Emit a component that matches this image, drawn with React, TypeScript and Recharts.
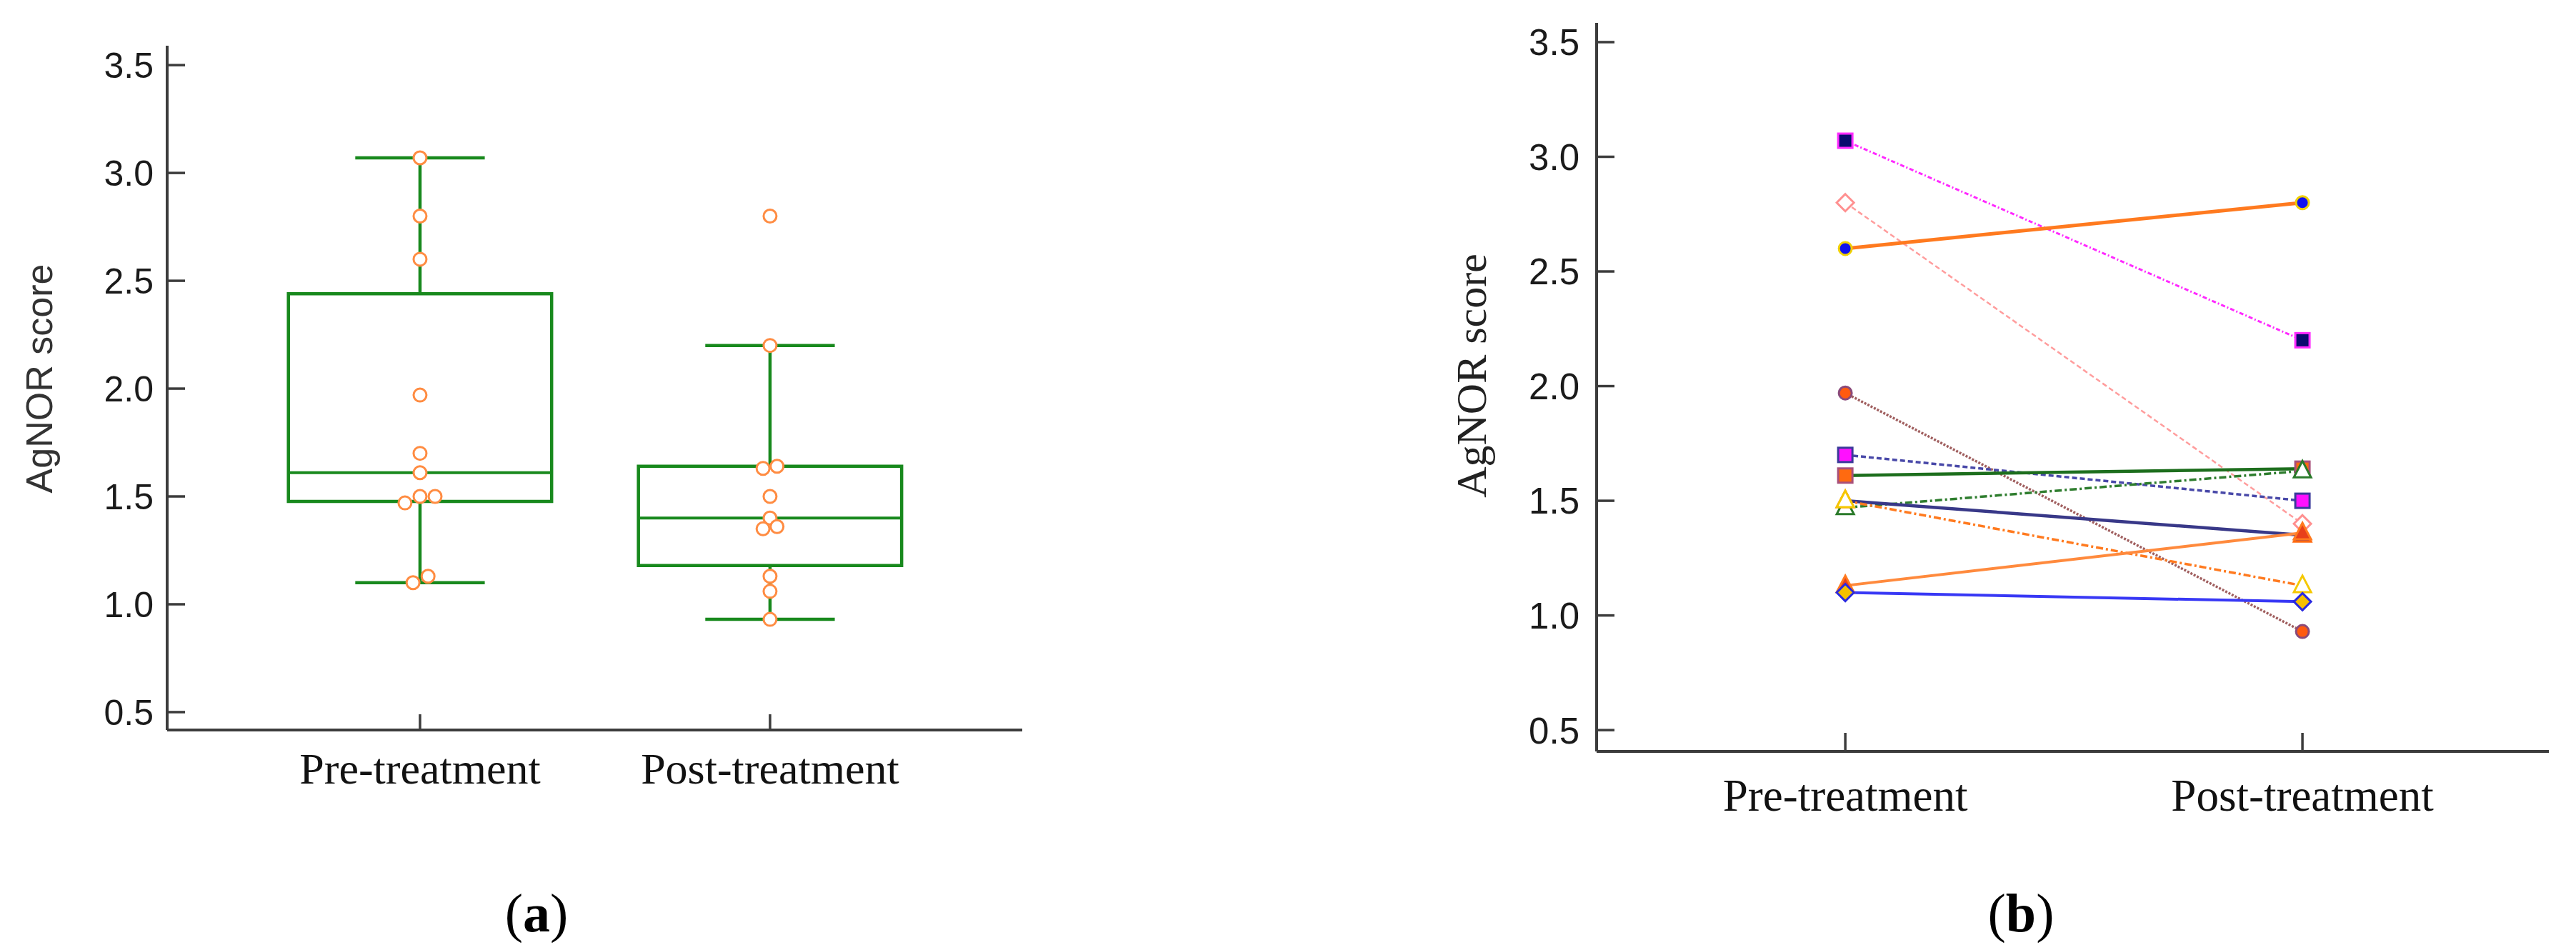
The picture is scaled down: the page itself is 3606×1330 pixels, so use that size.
import React from 'react';
import {
  ComposedChart,
  LineChart,
  Line,
  Scatter,
  XAxis,
  YAxis,
  ReferenceArea,
  ReferenceLine,
} from 'recharts';

// ---------- data ----------
const categories = ['Pre-treatment', 'Post-treatment'];
const categoryX = [1, 2];
const yTicks = [0.5, 1.0, 1.5, 2.0, 2.5, 3.0, 3.5];

// paired AgNOR scores per patient
const preScores = [3.07, 2.8, 2.6, 1.97, 1.7, 1.61, 1.47, 1.5, 1.5, 1.13, 1.1];
const postScores = [2.2, 1.4, 2.8, 0.93, 1.5, 1.64, 1.63, 1.35, 1.13, 1.36, 1.06];
// horizontal jitter of the dots in the box plot (category units)
const preJitter = [0, 0, 0, 0, 0, 0, -0.043, 0, 0.043, 0.023, -0.02];
const postJitter = [0, 0, 0, 0, 0, 0.02, -0.02, -0.02, 0, 0.02, 0];

// box plot statistics [pre, post]
const boxMin = [1.1, 0.93];
const boxQ1 = [1.477, 1.18];
const boxMedian = [1.61, 1.4];
const boxQ3 = [2.44, 1.64];
const boxMax = [3.07, 2.2];

// ---------- styles ----------
const SANS = '"Liberation Sans", Arial, Helvetica, sans-serif';
const SERIF = '"Liberation Serif", "Times New Roman", serif';
const AXIS = '#3c3c3c';
const GREEN = '#18891d';
const DOT = '#ff8c42';
const BOX_HALF = 0.376;
const CAP_HALF = 0.185;

const seriesStyles = [
  { color: '#ff2bff', width: 3, dash: '6 3 2 3', shape: 'square', fill: '#0a0a6e', stroke: '#ff2bff' },
  { color: '#ff9d9d', width: 2.5, dash: '7 4', shape: 'diamond', fill: '#ffffff', stroke: '#ff9090' },
  { color: '#ff7a1f', width: 5, dash: undefined, shape: 'circle', fill: '#1010ee', stroke: '#f0d000' },
  { color: '#a05f5f', width: 3.5, dash: '3 2', shape: 'circle', fill: '#ff5a10', stroke: '#8a4a7a' },
  { color: '#4848a8', width: 3.5, dash: '7 4', shape: 'square', fill: '#ff10ff', stroke: '#3a3a9a' },
  { color: '#1d6e1d', width: 4.5, dash: undefined, shape: 'square', fill: '#ff6a10', stroke: '#a8507a' },
  { color: '#2e7d2e', width: 3.5, dash: '10 4 3 4', shape: 'triangle', fill: '#ffffff', stroke: '#2a7a2a' },
  { color: '#383888', width: 4.5, dash: undefined, shape: 'triangle', fill: '#7a2e6e', stroke: '#ff6a10' },
  { color: '#ff7a1f', width: 3.5, dash: '10 4 3 4', shape: 'triangle', fill: '#ffffff', stroke: '#f5c800' },
  { color: '#ff8a3d', width: 4, dash: undefined, shape: 'triangle', fill: '#e8401a', stroke: '#ff7a1f' },
  { color: '#3838f5', width: 4, dash: undefined, shape: 'diamond', fill: '#f5c000', stroke: '#2a2ae0' },
];

// ---------- derived tables ----------
const prePoints = preScores.map((v, i) => ({ x: categoryX[0] + preJitter[i], y: v }));
const postPoints = postScores.map((v, i) => ({ x: categoryX[1] + postJitter[i], y: v }));
const pairs = preScores.map((v, i) => [
  { x: categoryX[0], y: v },
  { x: categoryX[1], y: postScores[i] },
]);

// ---------- helpers ----------
const makeYTick = (len: number, fontSize: number, gap: number) => (props: any) => {
  const { x, y, payload } = props;
  return (
    <g>
      <line x1={x} x2={x + len} y1={y} y2={y} stroke={AXIS} strokeWidth={3.5} />
      <text
        x={x - gap}
        y={y}
        dy="0.36em"
        textAnchor="end"
        fontFamily={SANS}
        fontSize={fontSize}
        fill="#1a1a1a"
      >
        {Number(payload.value).toFixed(1)}
      </text>
    </g>
  );
};

const makeXTick = (len: number, fontSize: number, offset: number) => (props: any) => {
  const { x, y, payload } = props;
  const idx = categoryX.indexOf(payload.value);
  return (
    <g>
      <line x1={x} x2={x} y1={y} y2={y - len} stroke={AXIS} strokeWidth={3.5} />
      <text
        x={x}
        y={y + offset}
        dy="0.35em"
        textAnchor="middle"
        fontFamily={SERIF}
        fontSize={fontSize}
        fill="#111"
      >
        {idx >= 0 ? categories[idx] : ''}
      </text>
    </g>
  );
};

const makeYLabel = (dxCenter: number, dyCenter: number, font: string, fontSize: number, color: string) =>
  (props: any) => {
    const vb = props.viewBox || { x: 0, y: 0, width: 0, height: 0 };
    const cx = vb.x + dxCenter;
    const cy = vb.y + vb.height / 2 + dyCenter;
    return (
      <text
        x={cx}
        y={cy}
        dy="0.35em"
        textAnchor="middle"
        transform={`rotate(-90, ${cx}, ${cy})`}
        fontFamily={font}
        fontSize={fontSize}
        fill={color}
      >
        AgNOR score
      </text>
    );
  };

const OpenDot = (props: any) => {
  const { cx, cy } = props;
  if (cx == null || cy == null) return <g />;
  return <circle cx={cx} cy={cy} r={9} fill="#ffffff" stroke={DOT} strokeWidth={3} />;
};

function Marker({ cx, cy, st }: any) {
  const size = 20;
  const s = size / 2;
  const common = { fill: st.fill, stroke: st.stroke, strokeWidth: 3 };
  if (st.shape === 'square') {
    return <rect x={cx - s} y={cy - s} width={size} height={size} {...common} />;
  }
  if (st.shape === 'circle') {
    return <circle cx={cx} cy={cy} r={9} {...common} />;
  }
  if (st.shape === 'diamond') {
    return (
      <polygon
        points={`${cx},${cy - 12} ${cx + 12},${cy} ${cx},${cy + 12} ${cx - 12},${cy}`}
        {...common}
      />
    );
  }
  return (
    <polygon
      points={`${cx},${cy - 14} ${cx + 12},${cy + 9} ${cx - 12},${cy + 9}`}
      {...common}
    />
  );
}

// ---------- charts ----------
function BoxPanel() {
  return (
    <ComposedChart width={1500} height={1200} margin={{ top: 64, right: 69, left: 0, bottom: 0 }}>
      <XAxis
        dataKey="x"
        type="number"
        domain={[0.2776, 2.7206]}
        ticks={categoryX}
        allowDataOverflow
        height={178}
        tickSize={0}
        tickMargin={0}
        tickLine={false}
        axisLine={{ stroke: AXIS, strokeWidth: 4 }}
        tick={makeXTick(22, 62, 53)}
      />
      <YAxis
        dataKey="y"
        type="number"
        domain={[0.417, 3.59]}
        ticks={yTicks}
        allowDataOverflow
        width={234}
        tickSize={0}
        tickMargin={0}
        tickLine={false}
        axisLine={{ stroke: AXIS, strokeWidth: 4 }}
        tick={makeYTick(25, 50, 19)}
        label={{ content: makeYLabel(55, -13, SANS, 52, '#333') }}
      />
      {categoryX.map((cx, i) => (
        <ReferenceArea
          key={`box-${i}`}
          x1={cx - BOX_HALF}
          x2={cx + BOX_HALF}
          y1={boxQ1[i]}
          y2={boxQ3[i]}
          fill="none"
          fillOpacity={0}
          stroke={GREEN}
          strokeWidth={4.5}
          strokeOpacity={1}
        />
      ))}
      {categoryX.map((cx, i) => (
        <ReferenceLine
          key={`med-${i}`}
          segment={[
            { x: cx - BOX_HALF, y: boxMedian[i] },
            { x: cx + BOX_HALF, y: boxMedian[i] },
          ]}
          stroke={GREEN}
          strokeWidth={4}
        />
      ))}
      {categoryX.map((cx, i) => (
        <ReferenceLine
          key={`wh-${i}`}
          segment={[
            { x: cx, y: boxQ3[i] },
            { x: cx, y: boxMax[i] },
          ]}
          stroke={GREEN}
          strokeWidth={4.5}
        />
      ))}
      {categoryX.map((cx, i) => (
        <ReferenceLine
          key={`wl-${i}`}
          segment={[
            { x: cx, y: boxQ1[i] },
            { x: cx, y: boxMin[i] },
          ]}
          stroke={GREEN}
          strokeWidth={4.5}
        />
      ))}
      {categoryX.map((cx, i) => (
        <ReferenceLine
          key={`ch-${i}`}
          segment={[
            { x: cx - CAP_HALF, y: boxMax[i] },
            { x: cx + CAP_HALF, y: boxMax[i] },
          ]}
          stroke={GREEN}
          strokeWidth={4.5}
        />
      ))}
      {categoryX.map((cx, i) => (
        <ReferenceLine
          key={`cl-${i}`}
          segment={[
            { x: cx - CAP_HALF, y: boxMin[i] },
            { x: cx + CAP_HALF, y: boxMin[i] },
          ]}
          stroke={GREEN}
          strokeWidth={4.5}
        />
      ))}
      <Scatter data={prePoints} dataKey="y" shape={OpenDot} isAnimationActive={false} />
      <Scatter data={postPoints} dataKey="y" shape={OpenDot} isAnimationActive={false} />
    </ComposedChart>
  );
}

function PairPanel() {
  return (
    <LineChart width={1806} height={1200} margin={{ top: 32, right: 38, left: 0, bottom: 0 }}>
      <XAxis
        dataKey="x"
        type="number"
        domain={[0.456, 2.539]}
        ticks={categoryX}
        allowDataOverflow
        height={148}
        tickSize={0}
        tickMargin={0}
        tickLine={false}
        axisLine={{ stroke: AXIS, strokeWidth: 4 }}
        tick={makeXTick(26, 63, 61)}
      />
      <YAxis
        dataKey="y"
        type="number"
        domain={[0.407, 3.584]}
        ticks={yTicks}
        allowDataOverflow
        width={435}
        tickSize={0}
        tickMargin={0}
        tickLine={false}
        axisLine={{ stroke: AXIS, strokeWidth: 4 }}
        tick={makeYTick(25, 51, 24)}
        label={{ content: makeYLabel(259, -16, SERIF, 60, '#222') }}
      />
      {pairs.map((d, i) => {
        const st = seriesStyles[i];
        return (
          <Line
            key={`s-${i}`}
            data={d}
            dataKey="y"
            type="linear"
            stroke={st.color}
            strokeWidth={st.width}
            strokeDasharray={st.dash}
            isAnimationActive={false}
            dot={(p: any) => <Marker key={`m-${i}-${p.index}`} cx={p.cx} cy={p.cy} st={st} />}
            activeDot={false}
          />
        );
      })}
    </LineChart>
  );
}

const panelLabel = (letter: string, centerX: number) => (
  <div
    style={{
      position: 'absolute',
      left: centerX - 100,
      top: 1230,
      width: 200,
      textAlign: 'center',
      fontFamily: SERIF,
      fontSize: 76,
      lineHeight: '96px',
      color: '#000',
    }}
  >
    (<b>{letter}</b>)
  </div>
);

export default function App() {
  return (
    <div
      style={{
        position: 'absolute',
        left: 0,
        top: 0,
        width: 3606,
        height: 1330,
        background: '#ffffff',
        overflow: 'hidden',
      }}
    >
      <div style={{ position: 'absolute', left: 0, top: 0 }}>
        <BoxPanel />
      </div>
      <div style={{ position: 'absolute', left: 1800, top: 0 }}>
        <PairPanel />
      </div>
      {panelLabel('a', 751)}
      {panelLabel('b', 2829)}
    </div>
  );
}
